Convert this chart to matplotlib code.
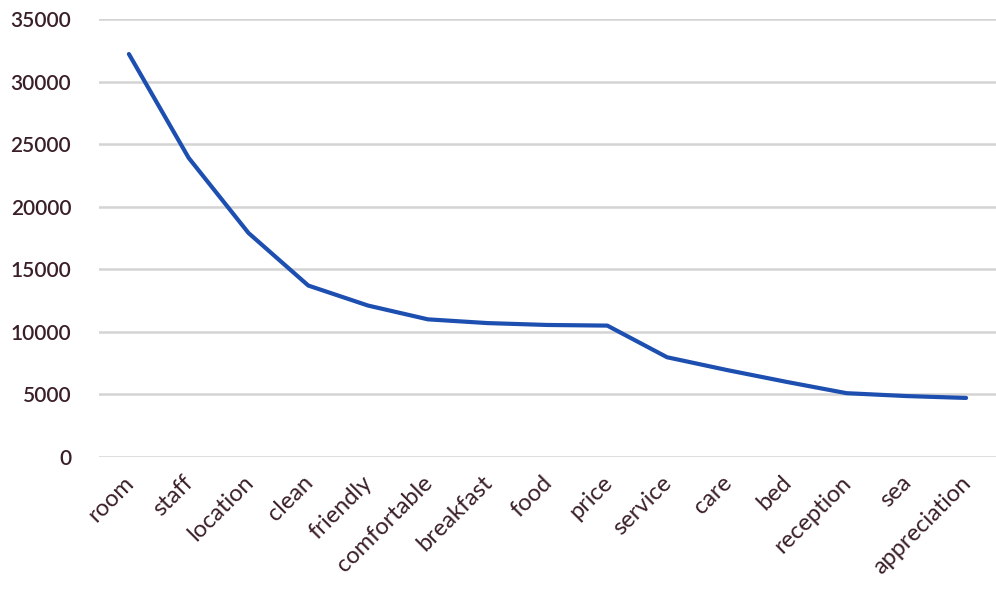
import matplotlib
matplotlib.use("Agg")
import matplotlib.pyplot as plt
from matplotlib.transforms import ScaledTranslation

categories = ["room", "staff", "location", "clean", "friendly", "comfortable",
              "breakfast", "food", "price", "service", "care", "bed",
              "reception", "sea", "appreciation"]
counts = [32200, 23900, 17900, 13700, 12100, 11000, 10700, 10550, 10500,
          7970, 6950, 6000, 5100, 4870, 4720]
y_ticks = [0, 5000, 10000, 15000, 20000, 25000, 30000, 35000]

text_color = "#3a1f29"
plt.rcParams["font.family"] = ["Lato", "DejaVu Sans"]

fig = plt.figure(figsize=(9.96, 5.89), dpi=100)
ax = fig.add_axes([99 / 996, 1 - 457 / 589, (996 - 99) / 996, (457 - 19) / 589])

x = list(range(len(categories)))
ax.plot(x, counts, color="#1d4fb0", linewidth=3.0, solid_capstyle="round",
        solid_joinstyle="round", zorder=3)

ax.set_xlim(-0.5, len(categories) - 0.5)
ax.set_ylim(0, 35000)
ax.set_yticks(y_ticks)
ax.set_yticklabels([str(v) for v in y_ticks], fontsize=15, fontweight="semibold")
ax.yaxis.grid(True, color="#d4d4d4", linewidth=1.8)
ax.set_axisbelow(True)

# Category labels, rotated and anchored at their upper-right corner
ax.set_xticks(x)
ax.set_xticklabels([])
label_tf = ax.get_xaxis_transform() + ScaledTranslation(-6 / 100, -15 / 100,
                                                        fig.dpi_scale_trans)
for xi, name in zip(x, categories):
    ax.text(xi, 0, name, transform=label_tf, rotation=45, ha="right", va="top",
            rotation_mode="anchor", fontsize=17, color=text_color,
            clip_on=False)

for s in ax.spines.values():
    s.set_visible(False)
ax.tick_params(axis="both", length=0, colors=text_color)
ax.tick_params(axis="y", pad=20)

fig.savefig("out.png", dpi=100, facecolor="white")
